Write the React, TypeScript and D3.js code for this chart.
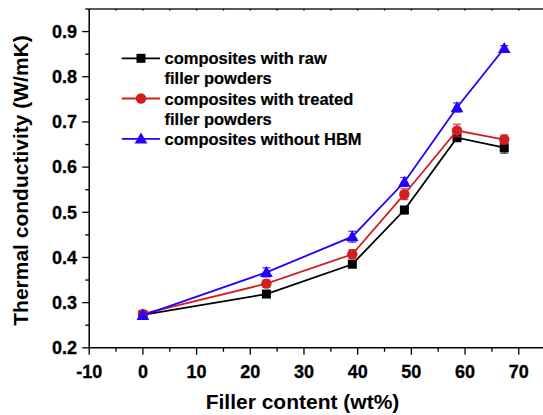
import * as d3 from "d3";

const FILLER = [0, 23, 39, 48.7, 58.5, 67.3];
const RAW = [0.273, 0.319, 0.385, 0.505, 0.665, 0.643];
const RAW_ERR = [0.006, 0.006, 0.006, 0.008, 0.008, 0.012];
const TREATED = [0.275, 0.342, 0.407, 0.54, 0.681, 0.661];
const TREATED_ERR = [0.007, 0.008, 0.01, 0.012, 0.014, 0.01];
const NO_HBM = [0.272, 0.367, 0.446, 0.567, 0.732, 0.863];
const NO_HBM_ERR = [0.007, 0.01, 0.012, 0.01, 0.01, 0.006];

const X_TICKS = [-10, 0, 10, 20, 30, 40, 50, 60, 70];
const Y_TICKS = [0.2, 0.3, 0.4, 0.5, 0.6, 0.7, 0.8, 0.9];

const W = 543, H = 415;
const FONT = "'Liberation Sans', Arial, sans-serif";

const x = d3.scaleLinear().domain([-10, 75]).range([89.2, 545.6]);
const y = d3.scaleLinear().domain([0.2, 0.95]).range([347.8, 9]);

type Series = { name: string[]; color: string; ys: number[]; err: number[]; marker: "square" | "circle" | "triangle" };

const SERIES: Series[] = [
  { name: ["composites with raw", "filler powders"], color: "#000000", ys: RAW, err: RAW_ERR, marker: "square" },
  { name: ["composites with treated", "filler powders"], color: "#d11f1f", ys: TREATED, err: TREATED_ERR, marker: "circle" },
  { name: ["composites without HBM"], color: "#2200ff", ys: NO_HBM, err: NO_HBM_ERR, marker: "triangle" },
];

function Marker({ kind, cx, cy, color }: { kind: string; cx: number; cy: number; color: string }) {
  if (kind === "square") return <rect x={cx - 4.5} y={cy - 4.5} width={9} height={9} fill={color} />;
  if (kind === "circle") return <circle cx={cx} cy={cy} r={5.2} fill={color} />;
  const tri = d3.symbol(d3.symbolTriangle, 70)();
  return <path d={tri || ""} transform={`translate(${cx},${cy + 1})`} fill={color} />;
}

export default function App() {
  const line = d3.line<number>();
  const minorX = d3.range(-10, 76, 5);
  const minorY = d3.range(0.2, 0.951, 0.05);

  return (
    <svg width={W} height={H} style={{ position: "absolute", left: 0, top: 0, background: "#fff" }} fontFamily={FONT}>
      {/* frame */}
      <line x1={x(-10)} x2={W} y1={y(0.95)} y2={y(0.95)} stroke="#222" strokeWidth={1.5} />
      <line x1={x(-10)} x2={W} y1={y(0.2)} y2={y(0.2)} stroke="#000" strokeWidth={1.5} />
      <line x1={x(-10)} x2={x(-10)} y1={y(0.95)} y2={y(0.2) + 0.75} stroke="#000" strokeWidth={1.5} />

      {/* x ticks */}
      {minorX.map(v => {
        const major = Math.round(v) % 10 === 0;
        return <line key={"xt" + v} x1={x(v)} x2={x(v)} y1={y(0.2)} y2={y(0.2) + (major ? 7 : 4)} stroke="#000" strokeWidth={1.3} />;
      })}
      {minorX.map(v => (
        <line key={"xtt" + v} x1={x(v)} x2={x(v)} y1={y(0.95)} y2={y(0.95) + 1.5} stroke="#000" strokeWidth={1.3} />
      ))}
      {X_TICKS.map(v => (
        <text key={"xl" + v} x={x(v)} y={378} textAnchor="middle" fontSize={18} fontWeight="bold" stroke="#000" strokeWidth={0.3}>{v}</text>
      ))}

      {/* y ticks */}
      {minorY.map((v, i) => {
        const major = i % 2 === 0;
        return <line key={"yt" + i} x1={x(-10) - (major ? 7 : 4)} x2={x(-10)} y1={y(v)} y2={y(v)} stroke="#000" strokeWidth={1.3} />;
      })}
      {Y_TICKS.map(v => (
        <text key={"yl" + v} x={77} y={y(v) + 6.3} textAnchor="end" fontSize={18} fontWeight="bold" stroke="#000" strokeWidth={0.3}>{v.toFixed(1)}</text>
      ))}

      {/* axis titles */}
      <text x={302.5} y={408.5} textAnchor="middle" fontSize={21} fontWeight="bold">Filler content (wt%)</text>
      <text transform={`translate(28,180.5) rotate(-90)`} textAnchor="middle" fontSize={21} fontWeight="bold">Thermal conductivity (W/mK)</text>

      {/* series */}
      {SERIES.map(s => (
        <g key={s.color}>
          <path d={line(s.ys.map((v, i) => [x(FILLER[i]), y(v)]) as any) || ""} fill="none" stroke={s.color} strokeWidth={1.8} />
          {s.ys.map((v, i) => (
            <g key={i} stroke={s.color} strokeWidth={1.2} opacity={0.85}>
              <line x1={x(FILLER[i])} x2={x(FILLER[i])} y1={y(v + s.err[i])} y2={y(v - s.err[i])} />
              <line x1={x(FILLER[i]) - 4} x2={x(FILLER[i]) + 4} y1={y(v + s.err[i])} y2={y(v + s.err[i])} />
              <line x1={x(FILLER[i]) - 4} x2={x(FILLER[i]) + 4} y1={y(v - s.err[i])} y2={y(v - s.err[i])} />
            </g>
          ))}
          {s.ys.map((v, i) => (
            <Marker key={"m" + i} kind={s.marker} cx={x(FILLER[i])} cy={y(v)} color={s.color} />
          ))}
        </g>
      ))}

      {/* legend */}
      {SERIES.map((s, k) => {
        const cy = [58.3, 98.5, 138.8][k];
        return (
          <g key={"lg" + k}>
            <line x1={121.7} x2={160} y1={cy} y2={cy} stroke={s.color} strokeWidth={1.8} />
            <Marker kind={s.marker} cx={141} cy={cy} color={s.color} />
            {s.name.map((t, j) => (
              <text key={j} x={164.5} y={cy + 6 + j * 20} fontSize={16.5} fontWeight="bold" stroke="#000" strokeWidth={0.2}>{t}</text>
            ))}
          </g>
        );
      })}
    </svg>
  );
}
